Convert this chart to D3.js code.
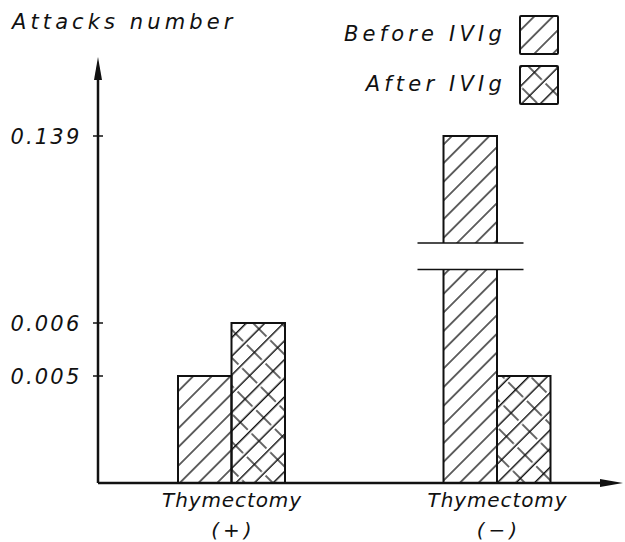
<!DOCTYPE html>
<html><head><meta charset="utf-8">
<script src="https://cdn.jsdelivr.net/npm/d3@7"></script>
<style>
body{margin:0;background:#fff;}
text{font-family:"DejaVu Sans",sans-serif;font-style:italic;fill:#111;}
</style></head>
<body><svg id="c" width="625" height="542"></svg>
<script>
const categories = ["Thymectomy (+)", "Thymectomy (-)"];
const catLabels = [["Thymectomy","(+)"],["Thymectomy","(−)"]];
const seriesNames = ["Before IVIg", "After IVIg"];
const beforeVals = [0.005, 0.139];
const afterVals = [0.006, 0.005];
const tickVals = [0.005, 0.006, 0.139];
const tickLabels = ["0.005", "0.006", "0.139"];

const svg = d3.select("#c");
const ink = "#111";
const x0 = 98, yBase = 483;
// broken (schematic) axis: piecewise scale
const y = d3.scaleLinear().domain([0, 0.005, 0.006, 0.139]).range([yBase, 376, 323, 136]);
const xc = d3.scalePoint().domain(categories).range([231.5, 497]);
const xs = d3.scaleBand().domain(["before","after"]).range([-53.5, 53.5]);

const defs = svg.append("defs");
const s = 13.2;
const p1 = defs.append("pattern").attr("id","hBefore").attr("patternUnits","userSpaceOnUse")
  .attr("width",20).attr("height",s).attr("patternTransform","rotate(-45)");
p1.append("line").attr("x1",0).attr("x2",20).attr("y1",s/2).attr("y2",s/2).attr("stroke",ink).attr("stroke-width",1.3);
const W = 3*s;
const p2 = defs.append("pattern").attr("id","hAfter").attr("patternUnits","userSpaceOnUse")
  .attr("width",W).attr("height",2*s).attr("patternTransform","rotate(-45)");
[s/2, 1.5*s].forEach((yy,i)=>{
  p2.append("line").attr("x1",0).attr("x2",W).attr("y1",yy).attr("y2",yy).attr("stroke",ink).attr("stroke-width",1.3);
});
// short crossing strokes, staggered (drawn with wrap copies)
[[W*0.25, s/2],[W*0.75, 1.5*s]].forEach(([cx,cy])=>{
  [-2*s,0,2*s].forEach(off=>{
    p2.append("line").attr("x1",cx).attr("x2",cx).attr("y1",cy+off-0.8*s).attr("y2",cy+off+0.8*s)
      .attr("stroke",ink).attr("stroke-width",1.3);
  });
});

// bars
const rows = categories.map((c,i)=>[{c,k:"before",v:beforeVals[i]},{c,k:"after",v:afterVals[i]}]).flat();
const g = svg.append("g");
rows.forEach(d=>{
  const bx = xc(d.c) + xs(d.k), bw = xs.bandwidth();
  g.append("rect").attr("x",bx).attr("y",y(d.v)).attr("width",bw).attr("height",yBase-y(d.v))
    .attr("fill","url(#" + (d.k==="before"?"hBefore":"hAfter") + ")")
    .attr("stroke",ink).attr("stroke-width",2);
});
// break on tall bar
const tall = {c:categories[1],k:"before"};
const tbx = xc(tall.c)+xs(tall.k);
const brTop = 243, brBot = 269.5;
svg.append("rect").attr("x",tbx-30).attr("y",brTop).attr("width",xs.bandwidth()+60).attr("height",brBot-brTop).attr("fill","#fff");
[brTop, brBot].forEach(yy=>svg.append("line").attr("x1",tbx-26).attr("x2",tbx+80).attr("y1",yy).attr("y2",yy)
  .attr("stroke",ink).attr("stroke-width",1.6));

// axes
svg.append("line").attr("x1",x0).attr("x2",x0).attr("y1",yBase).attr("y2",75).attr("stroke",ink).attr("stroke-width",2.5);
svg.append("path").attr("d",`M${x0},57 L${x0-4},80 L${x0+4},80 Z`).attr("fill",ink);
svg.append("line").attr("x1",x0).attr("x2",605).attr("y1",yBase).attr("y2",yBase).attr("stroke",ink).attr("stroke-width",2.5);
svg.append("path").attr("d",`M623,${yBase} L600,${yBase-4} L600,${yBase+4} Z`).attr("fill",ink);

tickVals.forEach((t,i)=>{
  svg.append("line").attr("x1",x0-5).attr("x2",x0+5).attr("y1",y(t)).attr("y2",y(t)).attr("stroke",ink).attr("stroke-width",1.5);
  svg.append("text").attr("x",81.5).attr("y",y(t)).attr("dy","0.36em").attr("text-anchor","end")
    .attr("font-size",21).attr("letter-spacing",2.2).text(tickLabels[i]);
});

svg.append("text").attr("x",12).attr("y",29).attr("font-size",21).attr("letter-spacing",4.1).text("Attacks number");

categories.forEach((c,i)=>{
  svg.append("text").attr("x",xc(c)+0.5).attr("y",507).attr("text-anchor","middle").attr("font-size",20).attr("letter-spacing",0.9).text(catLabels[i][0]);
  svg.append("text").attr("x",xc(c)+2).attr("y",537).attr("text-anchor","middle").attr("font-size",20).attr("letter-spacing",4).text(catLabels[i][1]);
});

// legend
const lg = svg.append("g");
seriesNames.forEach((sn,i)=>{
  const by = 16 + i*50;
  lg.append("rect").attr("x",520).attr("y",by).attr("width",38).attr("height",38)
    .attr("fill", i===0?"url(#hBefore)":"url(#hAfter)").attr("stroke",ink).attr("stroke-width",2).attr("rx",1);
  lg.append("text").attr("x",506).attr("y",by+25).attr("text-anchor","end").attr("font-size",21).attr("letter-spacing",4.2).text(sn);
});
</script></body></html>
